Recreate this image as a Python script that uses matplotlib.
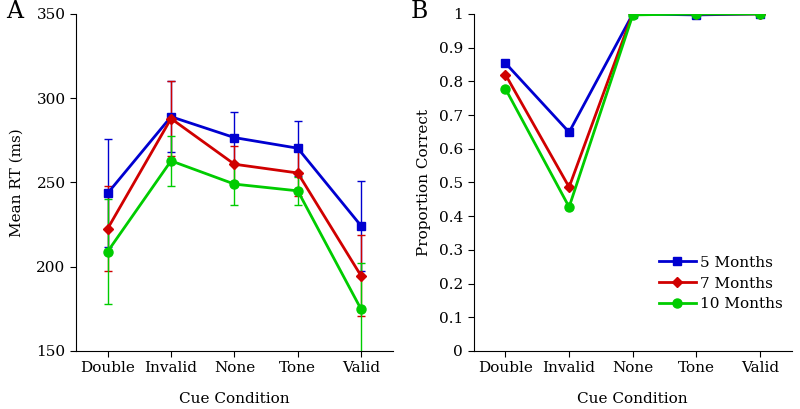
import matplotlib
matplotlib.use("Agg")
import matplotlib.pyplot as plt

plt.rcParams['font.family'] = ['DejaVu Serif']

conditions = ["Double", "Invalid", "None", "Tone", "Valid"]
groups = ["5 Months", "7 Months", "10 Months"]

# panel A: mean RT (ms) and error bar half-widths
rt_5 = [243.6, 289.0, 276.6, 270.3, 224.2]
rt_7 = [222.6, 287.9, 260.8, 255.6, 194.5]
rt_10 = [209.0, 262.8, 249.0, 245.0, 174.7]
err_5 = [32.0, 21.0, 15.0, 16.4, 26.5]
err_7 = [25.3, 22.0, 11.0, 13.4, 24.0]
err_10 = [31.3, 15.0, 12.5, 8.5, 27.3]

# panel B: proportion correct
pc_5 = [0.854, 0.649, 1.0, 0.997, 1.0]
pc_7 = [0.820, 0.486, 1.002, 1.0, 1.0]
pc_10 = [0.778, 0.427, 0.997, 1.0, 1.0]

colors = ["#0000D0", "#D00000", "#00CC00"]
markers = ["s", "D", "o"]
msizes = [5.5, 5.5, 6.5]

x = list(range(1, len(conditions) + 1))

fig = plt.figure(figsize=(8, 4.09), dpi=100)
axA = fig.add_axes([0.095, 0.142, 0.396, 0.824])
axB = fig.add_axes([0.592, 0.142, 0.398, 0.824])

for vals, errs, c, m, ms, lab in zip([rt_5, rt_7, rt_10], [err_5, err_7, err_10],
                                     colors, markers, msizes, groups):
    axA.errorbar(x, vals, yerr=errs, color=c, ecolor=c, elinewidth=1, capsize=3,
                 capthick=1, linewidth=2, marker=m, markersize=ms, label=lab)

for vals, c, m, ms, lab in zip([pc_5, pc_7, pc_10], colors, markers, msizes, groups):
    axB.plot(x, vals, color=c, linewidth=2, marker=m, markersize=ms, label=lab)

for ax in (axA, axB):
    ax.set_xlim(0.5, 5.5)
    ax.set_xticks(x)
    ax.set_xticklabels(conditions)
    ax.spines['top'].set_visible(False)
    ax.spines['right'].set_visible(False)
    ax.tick_params(direction='out', labelsize=11, length=4)
    ax.set_xlabel("Cue Condition", fontsize=11, labelpad=12)

axA.set_ylim(150, 350)
axA.set_yticks([150, 200, 250, 300, 350])
axA.set_ylabel("Mean RT (ms)", fontsize=11, labelpad=9)

axB.set_ylim(0, 1)
axB.set_yticks([i / 10 for i in range(11)])
axB.set_yticklabels(["0"] + ["%.1f" % (i / 10) for i in range(1, 10)] + ["1"])
axB.set_ylabel("Proportion Correct", fontsize=11, labelpad=6)
axB.legend(loc='lower right', bbox_to_anchor=(1.0, 0.09), frameon=False,
           fontsize=11, handlelength=2.4, handletextpad=0.3,
           borderaxespad=0.2, labelspacing=0.45)

fig.text(0.008, 0.955, "A", fontsize=17)
fig.text(0.513, 0.955, "B", fontsize=17)

fig.savefig("out.png", dpi=100)
